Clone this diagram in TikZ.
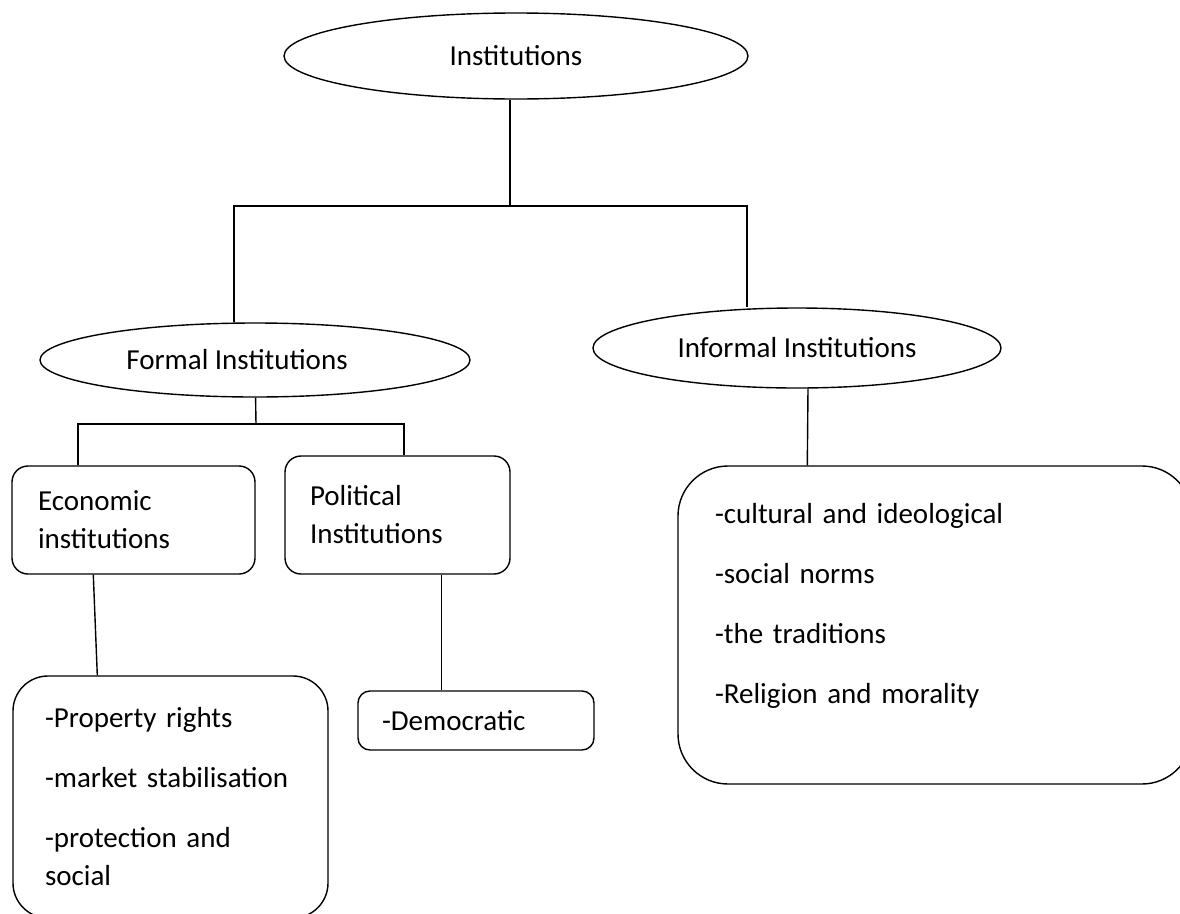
\documentclass[tikz,border=0pt]{standalone}
\usepackage{fontspec}
\setmainfont{Carlito}
\usepackage{tikz}
\usetikzlibrary{calc,shapes.geometric,positioning}
\tikzstyle{oval}=[draw,ellipse,inner sep=0pt]
\tikzstyle{card}=[draw,rectangle,align=left,inner ysep=0pt]

\begin{document}
\begin{tikzpicture}[x=1pt,y=-1pt,line width=1.4pt,font=\fontsize{29}{38}\selectfont]
\clip (0,0) rectangle (1180,913);
\draw (516,56) node [oval,minimum width=464pt,minimum height=86pt] (inst) {Institutions};
\draw (255,360) node [oval,minimum width=430pt,minimum height=74pt] (formal) {Formal Institutions\hspace*{36pt}};
\draw (797,348) node [oval,minimum width=408pt,minimum height=80pt] (informal) {Informal Institutions};
\draw (133.5,520) node [card,rounded corners=16pt,minimum height=108pt,inner xsep=26pt,text width=191pt] (econ) {Economic\\institutions};
\draw (397.5,515) node [card,rounded corners=16pt,minimum height=118pt,inner xsep=25pt,text width=175pt] (political) {Political\\Institutions};
\draw (476,720.5) node [card,rounded corners=12pt,minimum height=59pt,inner xsep=24pt,text width=188pt] (dem) {-Democratic};
\draw (170.5,797) node [card,rounded corners=35pt,minimum height=242pt,inner xsep=32pt,text width=251pt] (props) {-Property rights\\[22pt]-market stabilisation\\[22pt]-protection and\\social};
\draw (935,625) node [card,rounded corners=50pt,minimum height=318pt,inner xsep=37pt,text width=440pt] (infobox) {-cultural and ideological\\[22pt]-social norms\\[22pt]-the traditions\\[22pt]-Religion and morality\\[6pt]\mbox{}};
\coordinate (top) at (510,206);
\coordinate (lft) at (234,206);
\coordinate (rgt) at (747,206);
\coordinate (fmid) at (256,424);
\coordinate (fl) at (78,424);
\coordinate (fr) at (404,424);
\draw (inst.south -| top) -- (top);
\draw (lft |- formal.north) -- (lft) -- (rgt) -- (rgt |- informal.north);
\draw (formal) -- (fmid);
\draw (fl |- econ.north) -- (fl) -- (fr) -- (fr |- political.north);
\draw ($(econ.south west)+(82,0)$) -- ($(props.north west)+(85,0)$);
\draw ($(political.south west)+(157,0)$) -- ($(dem.north west)+(84,0)$);
\draw ($(informal.south)+(11,0)$) -- ($(infobox.north west)+(130,0)$);
\end{tikzpicture}
\end{document}
